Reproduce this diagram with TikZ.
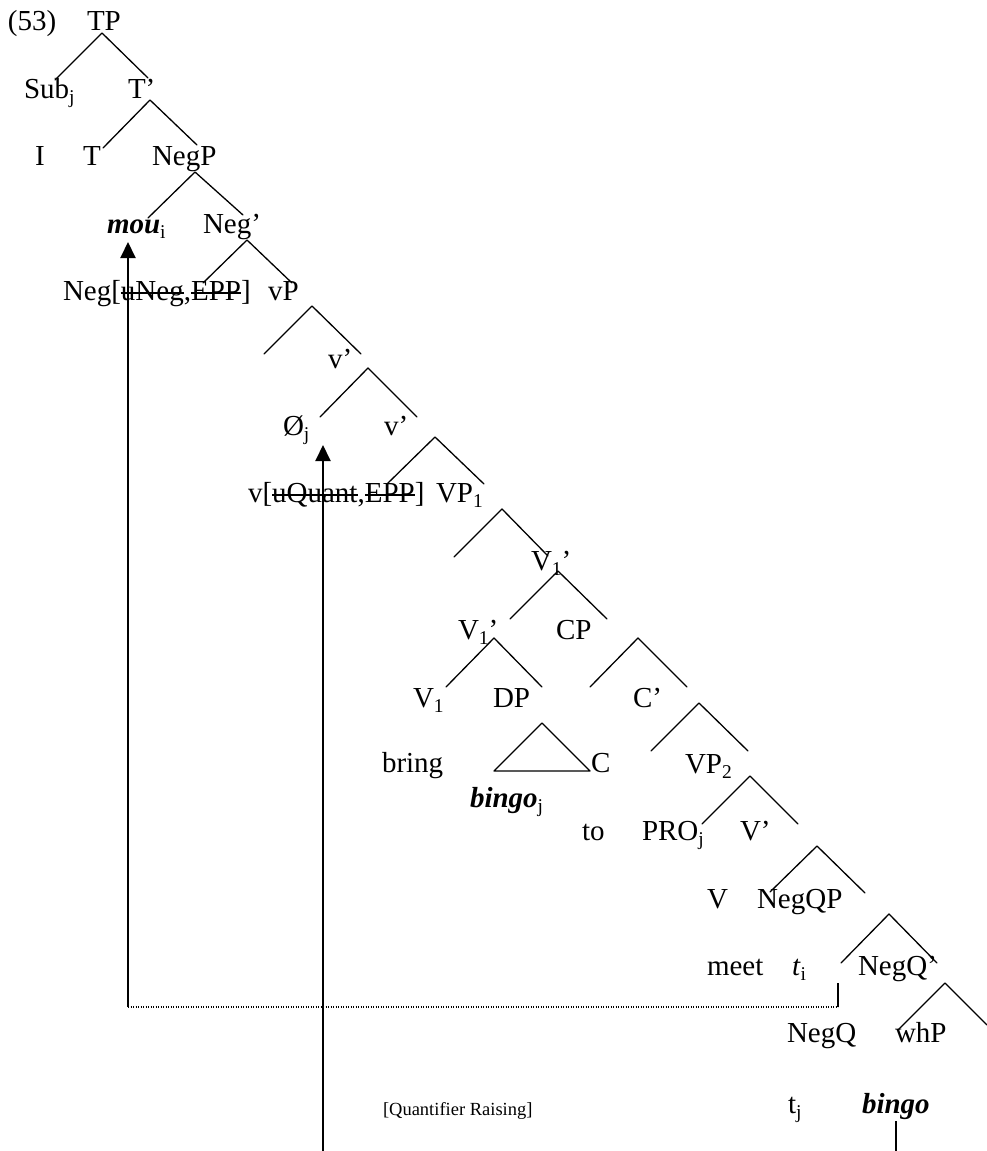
\documentclass[tikz,border=0pt]{standalone}
\usepackage{fontspec}
\setmainfont{Liberation Serif}
\usetikzlibrary{arrows.meta}
\newcommand{\subsc}[1]{\raisebox{-0.2em}{\fontsize{19.5pt}{19.5pt}\selectfont #1}}
\newcommand{\bi}[1]{\textbf{\textit{#1}}}
\newsavebox{\strkbox}
\newcommand{\strk}[1]{\sbox{\strkbox}{#1}\rlap{\rule[0.22em]{\wd\strkbox}{1.6pt}}\usebox{\strkbox}}
\tikzset{
  lbl/.style={anchor=base west, inner sep=0pt, outer sep=0pt, font=\fontsize{29pt}{30pt}\selectfont},
  small/.style={anchor=base west, inner sep=0pt, outer sep=0pt, font=\fontsize{18.5pt}{20pt}\selectfont},
  branch/.style={line width=1.3pt, line cap=round, line join=round},
  mvarrow/.style={line width=2pt, -{Triangle[width=15pt,length=16pt]}},
  dotline/.style={line width=1.3pt, dash pattern=on 1.2pt off 1.3pt},
}
\begin{document}
\begin{tikzpicture}[x=1pt,y=-1pt]
\useasboundingbox (0,0) rectangle (987,1151);
% labels
\node[lbl] (ex) at (8,30) {(53)};
\node[lbl] (tp) at (87,30) {TP};
\node[lbl] (sub) at (24,98) {Sub\subsc{j}};
\node[lbl] (tbar) at (128,98) {T'};
\node[lbl] (I) at (35,165) {I};
\node[lbl] (T) at (83,165) {T};
\node[lbl] (negp) at (152,165) {NegP};
\node[lbl] (mou) at (107,233) {\bi{mou}\subsc{i}};
\node[lbl] (negbar) at (203,233) {Neg'};
\node[lbl] (neghead) at (63,300) {Neg[\strk{uNeg},\strk{EPP}]};
\node[lbl] (vp) at (268,300) {vP};
\node[lbl] (vbar1) at (328,368) {v'};
\node[lbl] (empty) at (283,435) {Ø\subsc{j}};
\node[lbl] (vbar2) at (384,435) {v'};
\node[lbl] (vhead) at (248,502) {v[\strk{uQuant},\strk{EPP}]};
\node[lbl] (vp1) at (436,502) {VP\subsc{1}};
\node[lbl] (v1bara) at (531,570) {V\subsc{1}'};
\node[lbl] (v1barb) at (458,639) {V\subsc{1}'};
\node[lbl] (cp) at (556,639) {CP};
\node[lbl] (v1) at (413,707) {V\subsc{1}};
\node[lbl] (dp) at (493,707) {DP};
\node[lbl] (cbar) at (633,707) {C'};
\node[lbl] (bring) at (382,772) {bring};
\node[lbl] (c) at (591,772) {C};
\node[lbl] (vp2) at (685,773) {VP\subsc{2}};
\node[lbl] (bingoj) at (470,807) {\bi{bingo}\subsc{j}};
\node[lbl] (to) at (582,840) {to};
\node[lbl] (pro) at (642,840) {PRO\subsc{j}};
\node[lbl] (vbar) at (740,840) {V'};
\node[lbl] (V) at (707,908) {V};
\node[lbl] (negqp) at (757,908) {NegQP};
\node[lbl] (meet) at (707,975) {meet};
\node[lbl] (ti) at (792,975) {\textit{t}\subsc{i}};
\node[lbl] (negqbar) at (858,975) {NegQ'};
\node[lbl] (negq) at (787,1042) {NegQ};
\node[lbl] (whp) at (895,1042) {whP};
\node[lbl] (tj) at (788,1113) {t\subsc{j}};
\node[lbl] (bingo) at (862,1113) {\bi{bingo}};
\node[small] (qr) at (383,1115) {[Quantifier Raising]};
% branches
\foreach \ax/\ay/\lx/\ly/\rx/\ry in {
  102/33/55/80/148/78,
  150/100/103/148/197/145,
  195/172/148/218/243/215,
  247/240/203/283/292/283,
  312/306/264/354/361/354,
  368/368/320/417/417/417,
  435/437/387/484/484/484,
  502/509/454/557/548/556,
  558/571/510/619/607/619,
  494/638/446/687/542/687,
  638/638/590/687/687/687,
  699/703/651/751/748/751,
  750/776/702/824/798/824,
  817/846/770/892/865/893,
  889/914/841/963/937/963,
  945/983/898/1030/987/1025}
  {\draw[branch] (\lx,\ly) -- (\ax,\ay) -- (\rx,\ry);}
% DP triangle
\draw[branch] (542,723) -- (494,771) -- (590,771) -- cycle;
% movement lines
\coordinate (l0) at (128,1007);
\coordinate (l1) at (128,242);
\coordinate (d1) at (838,1007);
\coordinate (d2) at (838,983);
\coordinate (r0) at (323,1151);
\coordinate (r1) at (323,445);
\coordinate (b0) at (896,1121);
\coordinate (b1) at (896,1151);
\draw[mvarrow] (l0) -- (l1);
\draw[dotline] (l0) -- (d1);
\draw[line width=1.4pt] (d1) -- (d2);
\draw[mvarrow] (r0) -- (r1);
\draw[line width=1.4pt] (b0) -- (b1);
\end{tikzpicture}
\end{document}
